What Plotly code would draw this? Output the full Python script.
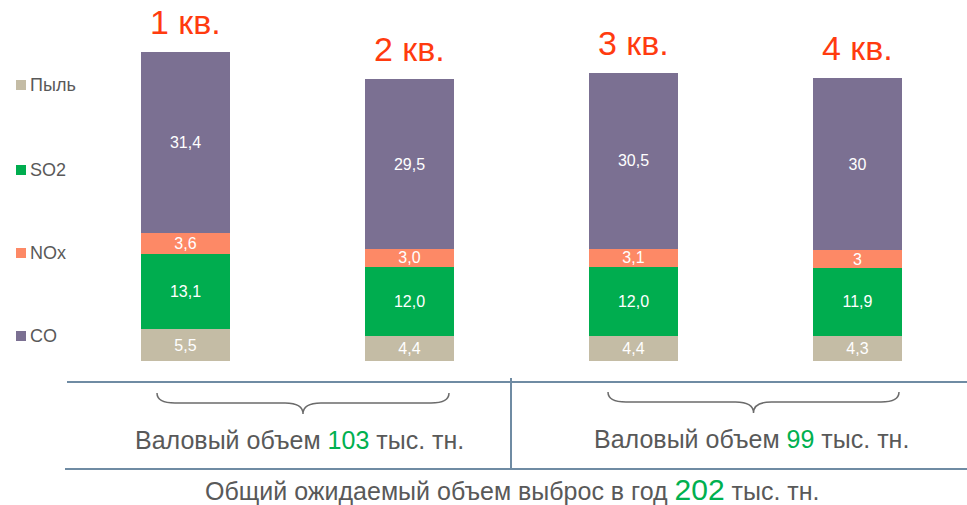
import plotly.graph_objects as go

quarters = ["1 кв.", "2 кв.", "3 кв.", "4 кв."]
dust = [5.5, 4.4, 4.4, 4.3]
so2 = [13.1, 12.0, 12.0, 11.9]
nox = [3.6, 3.0, 3.1, 3.0]
co = [31.4, 29.5, 30.5, 30.0]
dust_lbl = ["5,5", "4,4", "4,4", "4,3"]
so2_lbl = ["13,1", "12,0", "12,0", "11,9"]
nox_lbl = ["3,6", "3,0", "3,1", "3"]
co_lbl = ["31,4", "29,5", "30,5", "30"]
series_names = ["Пыль", "SO2", "NOx", "CO"]
half1_total = 103
half2_total = 99
year_total = 202

W, H = 967, 505
PLOT_H = 361
FONT = "Liberation Sans, Arial, sans-serif"
GRAY = "#595959"
GREEN = "#00b050"
RED = "#ff3b0f"
LINE = "#6f8ba3"
colors = ["#c4bca5", "#00ad4f", "#fd8966", "#7b7092"]


def px(x):
    return x / W


def py(y):
    return (PLOT_H - y) / PLOT_H


fig = go.Figure()
for name, vals, lbls, col in zip(series_names, [dust, so2, nox, co],
                                 [dust_lbl, so2_lbl, nox_lbl, co_lbl], colors):
    fig.add_trace(go.Bar(
        x=quarters, y=vals, name=name, text=lbls, textposition="inside",
        insidetextanchor="middle", texttemplate="%{text}", textangle=0,
        constraintext="none",
        textfont=dict(color="white", size=16, family=FONT),
        marker=dict(color=col, line=dict(width=0)), width=0.4,
        showlegend=False, hoverinfo="skip"))

totals = [a + b + c + d for a, b, c, d in zip(dust, so2, nox, co)]
annotations = []
for q, t in zip(quarters, totals):
    annotations.append(dict(x=q, y=t, xref="x", yref="y", text=q, showarrow=False,
                            xanchor="center", yanchor="bottom", yshift=9,
                            font=dict(color=RED, size=34, family=FONT)))

# manual legend (reverse order, top to bottom)
shapes = []
leg_y = [85, 170, 253, 336]
for name, col, yy in zip(series_names, colors, leg_y):
    shapes.append(dict(type="rect", xref="paper", yref="paper",
                       x0=px(16), x1=px(26), y0=py(yy + 5), y1=py(yy - 5),
                       fillcolor=col, line=dict(width=0)))
    annotations.append(dict(x=px(28), y=py(yy), xref="paper", yref="paper", text=name,
                            showarrow=False, xanchor="left", yanchor="middle",
                            font=dict(color=GRAY, size=18, family=FONT)))

# separator lines
shapes += [
    dict(type="line", xref="paper", yref="paper", x0=px(67), x1=px(967), y0=py(382), y1=py(382),
         line=dict(color=LINE, width=2)),
    dict(type="line", xref="paper", yref="paper", x0=px(65), x1=px(967), y0=py(469), y1=py(469),
         line=dict(color=LINE, width=2)),
    dict(type="line", xref="paper", yref="paper", x0=px(511), x1=px(511), y0=py(378), y1=py(469),
         line=dict(color=LINE, width=2)),
]


def brace(x0, x1, ytop, ymid, ytip):
    xm = (x0 + x1) / 2
    r = 9
    d = (f"M{px(x0)},{py(ytop)} Q{px(x0)},{py(ymid)} {px(x0 + r * 2)},{py(ymid)} "
         f"L{px(xm - r * 2)},{py(ymid)} Q{px(xm)},{py(ymid)} {px(xm)},{py(ytip)} "
         f"Q{px(xm)},{py(ymid)} {px(xm + r * 2)},{py(ymid)} "
         f"L{px(x1 - r * 2)},{py(ymid)} Q{px(x1)},{py(ymid)} {px(x1)},{py(ytop)}")
    return dict(type="path", xref="paper", yref="paper", path=d,
                line=dict(color="#6b6b6b", width=1.5))


shapes.append(brace(157, 449, 393, 403, 414))
shapes.append(brace(608, 899, 392, 402, 413))

annotations += [
    dict(x=px(299), y=py(440), xref="paper", yref="paper", showarrow=False,
         xanchor="center", yanchor="middle",
         text=f"Валовый объем <span style='color:{GREEN}'>{half1_total}</span> тыс. тн.",
         font=dict(color=GRAY, size=25, family=FONT)),
    dict(x=px(751), y=py(439), xref="paper", yref="paper", showarrow=False,
         xanchor="center", yanchor="middle",
         text=f"Валовый объем <span style='color:{GREEN}'>{half2_total}</span> тыс. тн.",
         font=dict(color=GRAY, size=25, family=FONT)),
    dict(x=px(512), y=py(490), xref="paper", yref="paper", showarrow=False,
         xanchor="center", yanchor="middle",
         text=(f"Общий ожидаемый объем выброс в год "
               f"<span style='color:{GREEN};font-size:30px'>{year_total}</span> тыс. тн."),
         font=dict(color=GRAY, size=25, family=FONT)),
]

fig.update_layout(
    width=W, height=H, barmode="stack",
    margin=dict(l=0, r=0, t=0, b=H - PLOT_H),
    paper_bgcolor="white", plot_bgcolor="white",
    xaxis=dict(range=[-185.5 / 224, (W - 185.5) / 224], visible=False),
    yaxis=dict(range=[0, PLOT_H / 5.76], visible=False),
    shapes=shapes, annotations=annotations,
)

fig.write_html("out.html", config={"displayModeBar": False},
               post_script="document.body.style.margin='0';document.body.style.overflow='hidden';")
